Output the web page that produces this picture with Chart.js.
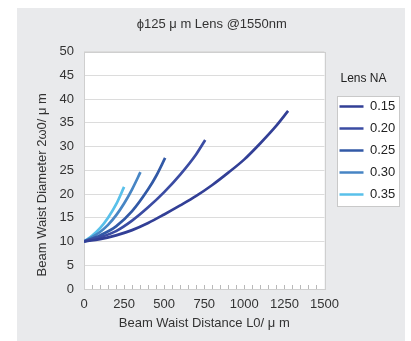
<!DOCTYPE html>
<html>
<head>
<meta charset="utf-8">
<script src="https://cdn.jsdelivr.net/npm/chart.js"></script>
<style>
  html, body { margin: 0; padding: 0; background: #ffffff; }
  #panel { position: absolute; left: 17px; top: 8px; width: 388px; height: 333px; background: #e9eaec; }
  canvas { display: block; }
</style>
</head>
<body>
<div id="panel"><canvas id="chart" width="388" height="333"></canvas></div>
<script>
// Beam waist diameter (2ω0, μm) versus beam waist distance (L0, μm) for each lens NA
const chartTitle = 'ϕ125 μ m Lens @1550nm';
const xAxisTitle = 'Beam Waist Distance L0/ μ m';
const yAxisTitle = 'Beam Waist Diameter 2ω0/ μ m';
const legendTitle = 'Lens NA';

const naLabels = ['0.15', '0.20', '0.25', '0.30', '0.35'];

const distNA015 = [0, 100, 200, 300, 400, 500, 600, 700, 800, 900, 1000, 1100, 1200, 1273];
const diamNA015 = [10, 10.5, 11.3, 12.4, 13.9, 15.7, 17.6, 19.6, 21.9, 24.5, 27.3, 30.7, 34.4, 37.5];

const distNA020 = [0, 100, 200, 300, 400, 500, 600, 700, 756];
const diamNA020 = [10, 10.9, 12.2, 14.4, 17.2, 20.4, 24.1, 28.4, 31.4];

const distNA025 = [0, 100, 200, 300, 400, 450, 506];
const diamNA025 = [10, 11.3, 13.2, 16.4, 21.0, 23.8, 27.6];

const distNA030 = [0, 50, 100, 150, 200, 250, 300, 352];
const diamNA030 = [10, 10.9, 12.0, 13.5, 15.5, 18.0, 21.0, 24.6];

const distNA035 = [0, 50, 100, 150, 200, 250];
const diamNA035 = [10, 11.2, 12.8, 15.0, 17.8, 21.5];

const xTicks = [0, 250, 500, 750, 1000, 1250, 1500];
const yTicks = [0, 5, 10, 15, 20, 25, 30, 35, 40, 45, 50];

// line colours, from dark navy (low NA) to light cyan (high NA)
const lineColors = ['#323f96', '#3b4ca3', '#3259a6', '#4785c4', '#59c0ea'];

const FONT = "'Liberation Sans', 'Noto Sans CJK JP', sans-serif";
const TEXT = '#333333';
const LEGEND_FONT_SIZE = 13;

const series = [
  [distNA015, diamNA015],
  [distNA020, diamNA020],
  [distNA025, diamNA025],
  [distNA030, diamNA030],
  [distNA035, diamNA035]
];

const datasets = series.map(([xs, ys], i) => ({
  label: naLabels[i],
  data: xs.map((x, k) => ({ x: x, y: ys[k] })),
  borderColor: lineColors[i],
  backgroundColor: lineColors[i],
  borderWidth: 2.7,
  pointRadius: 0,
  cubicInterpolationMode: 'monotone',
  fill: false
}));

// white plot area, its frame, inward minor ticks on the x axis and the white legend box
const plotDecor = {
  id: 'plotDecor',
  beforeDraw(chart) {
    const { ctx, chartArea: a } = chart;
    ctx.save();
    ctx.fillStyle = '#ffffff';
    ctx.fillRect(a.left, a.top, a.right - a.left, a.bottom - a.top);
    const lg = chart.legend;
    const hb = lg && lg.legendHitBoxes;
    if (hb && hb.length) {
      ctx.font = `${LEGEND_FONT_SIZE}px ${FONT}`;
      let l = Infinity, t = Infinity, r = -Infinity, b = -Infinity;
      hb.forEach((h, i) => {
        const textEnd = h.left + 24 + LEGEND_FONT_SIZE / 2 + ctx.measureText(naLabels[i]).width;
        l = Math.min(l, h.left); t = Math.min(t, h.top);
        r = Math.max(r, textEnd); b = Math.max(b, h.top + h.height);
      });
      const bx = Math.round(l - 3) + 0.5, by = Math.round(t - 4) + 0.5;
      const bw = Math.round(r - l + 6), bh = Math.round(b - t + 9);
      ctx.fillRect(bx, by, bw, bh);
      ctx.strokeStyle = '#c9c9c9';
      ctx.lineWidth = 1;
      ctx.strokeRect(bx, by, bw, bh);
    }
    ctx.restore();
  },
  beforeDatasetsDraw(chart) {
    const { ctx, chartArea: a, scales } = chart;
    ctx.save();
    ctx.strokeStyle = '#b8b8b8';
    ctx.lineWidth = 1;
    ctx.beginPath();
    for (let v = 50; v < 1500; v += 50) {
      const px = Math.round(scales.x.getPixelForValue(v)) + 0.5;
      ctx.moveTo(px, a.bottom);
      ctx.lineTo(px, a.bottom - 4);
    }
    ctx.stroke();
    ctx.strokeStyle = '#cfcfcf';
    ctx.strokeRect(Math.round(a.left) + 0.5, Math.round(a.top) + 0.5,
      Math.round(a.right - a.left), Math.round(a.bottom - a.top));
    ctx.restore();
  }
};

new Chart(document.getElementById('chart'), {
  type: 'line',
  data: { datasets },
  plugins: [plotDecor],
  options: {
    responsive: false,
    animation: false,
    devicePixelRatio: 1,
    layout: { padding: { left: 10, top: 0, bottom: 0, right: 8.5 } },
    plugins: {
      title: {
        display: true,
        text: chartTitle,
        color: TEXT,
        font: { family: FONT, size: 13, weight: 'normal' },
        padding: { top: 9, bottom: 19 }
      },
      legend: {
        position: 'right',
        align: 'start',
        fullSize: false,
        maxWidth: 66,
        title: {
          display: true,
          text: legendTitle,
          color: '#222222',
          font: { family: FONT, size: 12 },
          padding: { top: 21, bottom: 4 }
        },
        labels: {
          color: '#222222',
          font: { family: FONT, size: LEGEND_FONT_SIZE },
          usePointStyle: true,
          pointStyle: 'line',
          pointStyleWidth: 24,
          padding: 9
        }
      },
      tooltip: { enabled: false }
    },
    scales: {
      x: {
        type: 'linear',
        min: 0,
        max: 1500,
        afterBuildTicks(s) { s.ticks = xTicks.map(v => ({ value: v })); },
        afterFit(s) { s.height = 52; },
        grid: { display: false, drawTicks: false },
        border: { display: false },
        ticks: {
          color: TEXT,
          font: { family: FONT, size: 13 },
          padding: 8,
          maxRotation: 0,
          callback: v => String(v)
        },
        title: {
          display: true,
          text: xAxisTitle,
          color: TEXT,
          font: { family: FONT, size: 13 },
          padding: { top: 0, bottom: 10 }
        }
      },
      y: {
        type: 'linear',
        min: 0,
        max: 50,
        afterBuildTicks(s) { s.ticks = yTicks.map(v => ({ value: v })); },
        afterFit(s) { s.width = 57; },
        grid: { color: '#dcdcdc', lineWidth: 1, drawTicks: false },
        border: { display: false },
        ticks: { color: TEXT, font: { family: FONT, size: 13 }, padding: 10, callback: v => String(v) },
        title: {
          display: true,
          text: yAxisTitle + '        ',
          color: TEXT,
          font: { family: FONT, size: 13 },
          padding: { top: 8, bottom: 0 }
        }
      },
      gap: {
        type: 'linear',
        position: 'right',
        display: true,
        afterFit(s) { s.width = 6; },
        ticks: { display: false },
        grid: { display: false },
        border: { display: false }
      }
    }
  }
});
</script>
</body>
</html>
